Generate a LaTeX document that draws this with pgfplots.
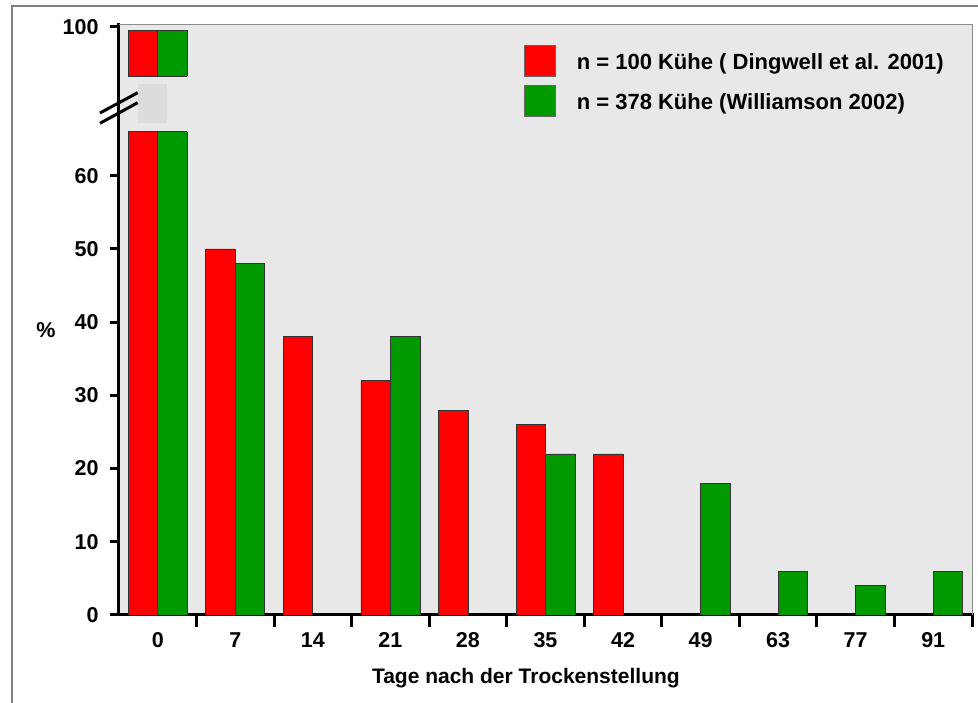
\documentclass[border=0pt]{standalone}
\usepackage{pgfplots}
\pgfplotsset{compat=1.18}
\usepackage{fontspec}
\setmainfont{Liberation Sans}
\definecolor{bg}{HTML}{E8E8E8}
\definecolor{brk}{HTML}{DCDCDC}
\definecolor{myred}{HTML}{FF0000}
\definecolor{mygreen}{HTML}{009900}
\pgfplotsset{sqlegend/.style={legend image code/.code={\draw[##1, draw=black!60] (0pt,-7pt) rectangle (31pt,24pt);}}}
\begin{document}
\begin{tikzpicture}[x=1pt,y=1pt]
\begin{axis}[
  at={(0,0)}, anchor=south west,
  scale only axis, width=853pt, height=590pt,
  xmin=-0.5, xmax=10.5, ymin=0, ymax=80.6,
  axis lines*=left,
  axis line style={line width=3pt, line cap=rect},
  axis background/.style={fill=bg},
  ybar=0pt, bar width=29.5pt,
  xtick={0,...,10},
  xticklabels={0,7,14,21,28,35,42,49,63,77,91},
  minor xtick={0.5,1.5,...,10.5},
  ytick={0,10,20,30,40,50,60,80.33},
  yticklabels={0,10,20,30,40,50,60,100},
  tick align=outside,
  major tick length=9pt,
  minor tick length=12pt,
  every major x tick/.append style={draw=none},
  every minor x tick/.append style={line width=3pt, black},
  every major y tick/.append style={line width=3pt, black},
  /pgf/number format/assume math mode=true,
  ticklabel style={font=\fontsize{21.5}{25}\selectfont\bfseries},
  xticklabel style={text height=15.5pt, text depth=0pt, yshift=-4pt},
  yticklabel style={xshift=-8pt},
  xlabel={Tage nach der Trockenstellung},
  every axis x label/.style={at={(axis description cs:0.477,0)}, anchor=north, inner sep=0pt, yshift=-53pt, font=\fontsize{21}{25}\selectfont\bfseries},
  ylabel={\%},
  every axis y label/.style={at={(axis description cs:0,0.483)}, anchor=center, xshift=-73pt, font=\fontsize{21.5}{25}\selectfont\bfseries},
  legend style={at={(axis description cs:0.4748,0.9661)}, anchor=north west, draw=none, fill=none, inner sep=0pt, outer sep=0pt, row sep=8pt, font=\fontsize{22}{26}\selectfont\bfseries, cells={anchor=base west}, nodes={inner sep=0pt}, /tikz/every odd column/.append style={column sep=21pt}},
]
% value 100 at day 0 is drawn at 79.9 on the broken axis (tick "100" at 80.33)
\addplot[fill=myred, draw=black!80, line width=0.8pt, sqlegend]
  coordinates {(0,79.9) (1,50) (2,38) (3,32) (4,28) (5,26) (6,22)};
\addlegendentry{n = 100 Kühe ( Dingwell et al. 2001)}
\addplot[fill=mygreen, draw=black!80, line width=0.8pt, sqlegend]
  coordinates {(0,79.9) (1,48) (3,38) (5,22) (7,18) (8,6) (9,4) (10,6)};
\addlegendentry{n = 378 Kühe (Williamson 2002)}
\end{axis}
% axis break
\fill[bg] (8.5,483.3) rectangle (69.2,538.6);
\fill[brk] (19,492) rectangle (48,531);
\draw[black!80, line width=0.8pt] (9.27,483.3) -- (68.27,483.3);
\draw[black!80, line width=0.8pt] (9.27,538.6) -- (68.27,538.6);
\draw[line width=3pt] (-19,502) -- (18.7,522.3);
\draw[line width=3pt] (-19,491.7) -- (18.7,512.3);
% thin top and right border of the plot area
\draw[black!45, line width=1pt] (0,590) -- (853,590) -- (853,0);
% outer frame
\draw[black!50, line width=1.2pt] (-107,-88) -- (-107,609) -- (860,609);
\pgfresetboundingbox
\path[use as bounding box] (-119,-88) rectangle (859,615);
\end{tikzpicture}
\end{document}
